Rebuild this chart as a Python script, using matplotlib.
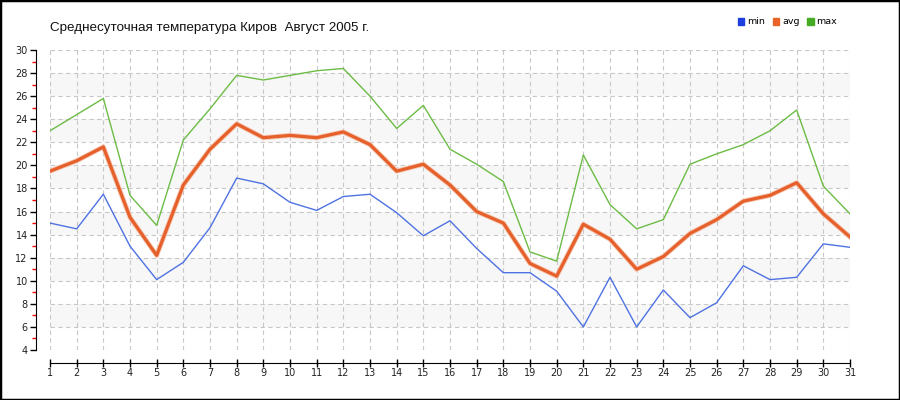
import matplotlib.pyplot as plt
import matplotlib.patheffects as pe
from matplotlib.patches import Patch, Rectangle
import numpy as np

# Data
days = list(range(1, 32))
t_min = [15.0, 14.5, 17.5, 13.0, 10.1, 11.6, 14.6, 18.9, 18.4, 16.8, 16.1, 17.3, 17.5, 15.9, 13.9, 15.2,
         12.8, 10.7, 10.7, 9.1, 6.0, 10.3, 6.0, 9.2, 6.8, 8.1, 11.3, 10.1, 10.3, 13.2, 12.9]
t_avg = [19.5, 20.4, 21.6, 15.5, 12.2, 18.3, 21.4, 23.6, 22.4, 22.6, 22.4, 22.9, 21.8, 19.5, 20.1, 18.3,
         16.0, 15.0, 11.5, 10.4, 14.9, 13.6, 11.0, 12.1, 14.1, 15.3, 16.9, 17.4, 18.5, 15.8, 13.8]
t_max = [23.0, 24.4, 25.8, 17.4, 14.8, 22.2, 24.9, 27.8, 27.4, 27.8, 28.2, 28.4, 26.0, 23.2, 25.2, 21.4,
         20.1, 18.6, 12.5, 11.7, 20.9, 16.6, 14.5, 15.3, 20.1, 21.0, 21.8, 23.0, 24.8, 18.2, 15.8]
series_names = ['min', 'avg', 'max']
title = 'Среднесуточная температура Киров  Август 2005 г.'

fig = plt.figure(figsize=(9, 4), dpi=100)
ax = fig.add_axes([50 / 900, 1 - 350 / 400, 800 / 900, 300 / 400])

# alternating bands
for lo in range(6, 30, 4):
    ax.axhspan(lo, lo + 2, color='#f7f7f7', zorder=0, lw=0)

ax.plot(days, t_min, color='#4f72e3', lw=1.0, zorder=3)
ax.plot(days, t_max, color='#6cbc45', lw=1.0, zorder=3)
ax.plot(days, t_avg, color='#e5602a', lw=2.3, zorder=4,
        path_effects=[pe.Stroke(linewidth=3.6, foreground='#f6c7b2'), pe.Normal()])

ax.set_xlim(1, 31)
ax.set_ylim(4, 30)
ax.set_xticks(days)
ax.set_yticks(np.arange(4, 31, 2))
ax.set_yticks(np.arange(5, 30, 2), minor=True)
ax.grid(True, which='major', color='#c8c8c8', linestyle=(0, (4, 3)), lw=0.8, zorder=1)
ax.set_axisbelow(True)

for s in ['top', 'right']:
    ax.spines[s].set_visible(False)
ax.spines['left'].set_position(('outward', 10))
ax.spines['bottom'].set_position(('outward', 9))
ax.spines['left'].set_bounds(4, 30)
ax.tick_params(axis='y', which='major', direction='out', length=4, width=1,
               labelsize=7, pad=2, colors='black')
ax.tick_params(axis='y', which='minor', direction='out', length=3, width=1, color='red')
ax.tick_params(axis='x', which='major', direction='inout', length=6, width=1,
               labelsize=7, pad=1)
for lab in ax.get_xticklabels() + ax.get_yticklabels():
    lab.set_color('#222222')

fig.text(50 / 900, 1 - 28 / 400, title, fontsize=9.6, family='Liberation Sans',
         va='center', ha='left', color='#111111')

handles = [Patch(color='#1c3fe0'), Patch(color='#e8622a'), Patch(color='#46ab25')]
fig.legend(handles, series_names, loc='center right', bbox_to_anchor=(842 / 900, 1 - 22 / 400),
           ncol=3, frameon=False, fontsize=6.8, handlelength=0.7, handleheight=0.7,
           handletextpad=0.3, columnspacing=0.8, borderpad=0)

fig.patches.append(Rectangle((0, 0), 1, 1, transform=fig.transFigure, fill=False,
                             edgecolor='black', lw=2.5))

fig.savefig('out.png', dpi=100)
